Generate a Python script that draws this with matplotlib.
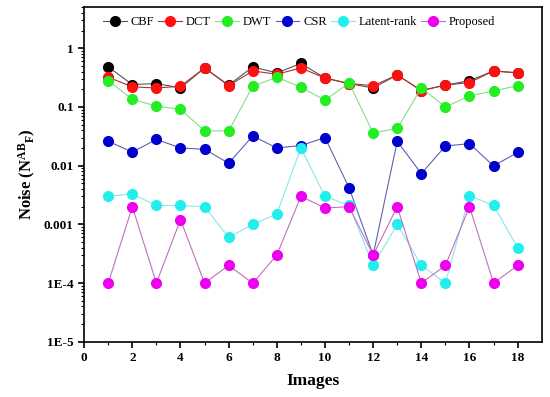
import matplotlib
matplotlib.use("Agg")
import matplotlib.pyplot as plt
from matplotlib.ticker import FixedLocator, LogLocator, NullFormatter

images = list(range(1, 19))
cbf = [0.48, 0.24, 0.25, 0.21, 0.46, 0.235, 0.48, 0.38, 0.55, 0.31, 0.25, 0.21, 0.35, 0.19, 0.235, 0.28, 0.41, 0.38]
dct = [0.32, 0.22, 0.21, 0.225, 0.46, 0.23, 0.41, 0.36, 0.46, 0.31, 0.25, 0.23, 0.35, 0.19, 0.235, 0.26, 0.41, 0.38]
dwt = [0.28, 0.135, 0.103, 0.091, 0.039, 0.039, 0.225, 0.32, 0.217, 0.13, 0.256, 0.036, 0.043, 0.21, 0.10, 0.154, 0.187, 0.23]
csr = [0.026, 0.017, 0.028, 0.020, 0.019, 0.011, 0.032, 0.020, 0.022, 0.030, 0.0042, 0.0003, 0.026, 0.0073, 0.0216, 0.0237, 0.0099, 0.0168]
latent = [0.0030, 0.0033, 0.0021, 0.0021, 0.0020, 0.0006, 0.0010, 0.0015, 0.020, 0.0030, 0.0021, 0.0002, 0.0010, 0.0002, 0.0001, 0.0031, 0.0021, 0.0004]
proposed = [1e-4, 0.002, 1e-4, 0.0012, 1e-4, 0.0002, 1e-4, 0.0003, 0.003, 0.0019, 0.002, 0.0003, 0.002, 1e-4, 0.0002, 0.002, 1e-4, 0.0002]

series = [("CBF", cbf, "#000000", "#555555"),
          ("DCT", dct, "#ff1010", "#b03030"),
          ("DWT", dwt, "#22ee22", "#88dd88"),
          ("CSR", csr, "#0000cc", "#6060b0"),
          ("Latent-rank", latent, "#22eeee", "#88e8e8"),
          ("Proposed", proposed, "#ee00ee", "#c070c0")]

plt.rcParams['font.family'] = ['Liberation Serif']
plt.rcParams['mathtext.fontset'] = 'custom'
plt.rcParams['mathtext.rm'] = 'Liberation Serif:bold'
plt.rcParams['mathtext.it'] = 'Liberation Serif:bold'
plt.rcParams['mathtext.bf'] = 'Liberation Serif:bold'

fig = plt.figure(figsize=(5.5, 3.97), dpi=100)
ax = fig.add_axes([0.153, 0.139, 0.832, 0.843])

for name, vals, mc, lc in series:
    ax.plot(images, vals, color=lc, linewidth=0.8, marker='o', markersize=7,
            markerfacecolor=mc, markeredgecolor=mc, label=name)

ax.set_yscale('log')
ax.set_ylim(1e-5, 5)
ax.set_xlim(0, 19)
ax.xaxis.set_major_locator(FixedLocator(list(range(0, 19, 2))))
ax.xaxis.set_minor_locator(FixedLocator(list(range(1, 19, 2))))
ax.yaxis.set_major_locator(FixedLocator([1e-5, 1e-4, 1e-3, 1e-2, 1e-1, 1]))
ax.set_yticklabels(['1E-5', '1E-4', '0.001', '0.01', '0.1', '1'])
ax.yaxis.set_minor_locator(LogLocator(base=10, subs=range(2, 10), numticks=20))
ax.yaxis.set_minor_formatter(NullFormatter())
ax.tick_params(axis='both', which='major', direction='out', length=4, width=1.2, labelsize=9.5)
ax.tick_params(axis='both', which='minor', direction='out', length=2, width=0.8)
for lab in ax.get_xticklabels() + ax.get_yticklabels():
    lab.set_fontweight('bold')
for sp in ax.spines.values():
    sp.set_linewidth(1.2)

ax.set_xlabel('Images', fontsize=12.5, fontweight='bold', labelpad=6)
ax.set_ylabel(r'Noise (N$^{AB}$$_{F}$)', fontsize=12, fontweight='bold', labelpad=4)

ax.legend(loc='upper center', ncol=6, frameon=False, fontsize=9,
          handlelength=1.9, handletextpad=0.3, columnspacing=0.35,
          bbox_to_anchor=(0.47, 1.0), borderaxespad=0.3)

fig.savefig('out.png', dpi=100)
